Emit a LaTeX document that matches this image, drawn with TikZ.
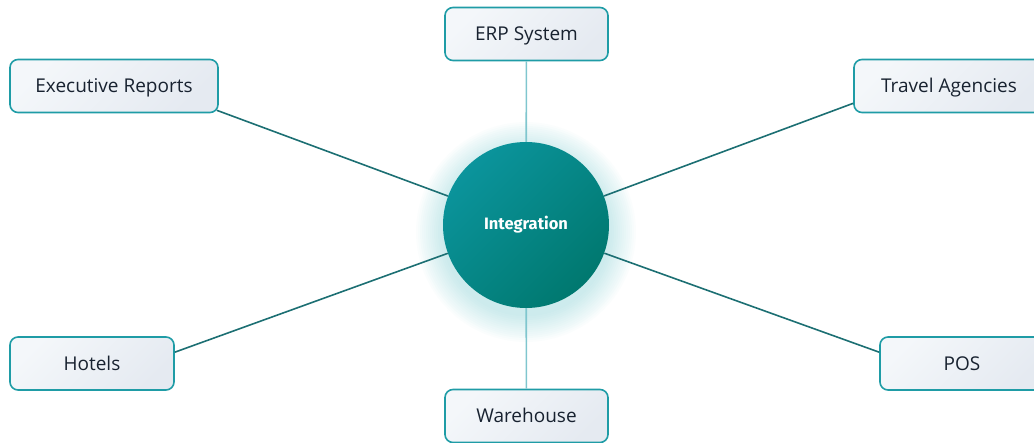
\documentclass[tikz,border=0pt]{standalone}
\usepackage{fontspec}
\setmainfont{Open Sans}
\newfontfamily\hubfont{Fira Sans}
\usepackage{xcolor}
\usepackage{tikz}
\usetikzlibrary{positioning,calc,shapes}
\definecolor{boxline}{HTML}{1F9CA6}
\definecolor{boxtop}{HTML}{F4F7FA}
\definecolor{boxbot}{HTML}{E5EAF1}
\definecolor{labeltext}{HTML}{182230}
\definecolor{spokec}{HTML}{1C6F73}
\definecolor{stemc}{HTML}{7FC6CE}
\definecolor{hubA}{HTML}{0B949C}
\definecolor{hubB}{HTML}{00786F}
\definecolor{glowc}{HTML}{4DB8BE}
\tikzstyle{sys}= [rectangle, rounded corners=8pt, draw=boxline, line width=1.6pt, top color=boxtop, bottom color=boxbot, shading angle=45, text=labeltext, font=\fontsize{19}{22}\selectfont, text height=16pt, text depth=2pt, inner sep=0pt, minimum height=53pt]
\tikzstyle{hubnode}= [circle, top color=hubA, bottom color=hubB, shading angle=45, text=white, font=\hubfont\bfseries\fontsize{16.5}{19}\selectfont, inner sep=0pt, minimum size=166pt]
\tikzstyle{spoke}= [draw=spokec, line width=1.6pt]
\tikzstyle{stem}= [draw=stemc, line width=1.6pt]

\begin{document}
\begin{tikzpicture}[x=1pt, y=1pt]
				\clip (0, 0) rectangle (1034, -443);
				\foreach \r in {84,86,...,110}
					\fill[glowc, opacity=0.025] (526, -232) circle (\r pt);
				\node[hubnode] (hub) at (526, -225) {Integration};
				\node[sys, minimum width=163pt] (erp) at (526.5, -34) {ERP System};
				\node[sys, minimum width=208pt] (exec) at (114, -86) {Executive Reports};
				\node[sys, minimum width=190pt] (travel) at (949, -86) {Travel Agencies};
				\node[sys, minimum width=164pt] (hotels) at (92, -363.5) {Hotels};
				\node[sys, minimum width=164pt] (pos) at (962, -363.5) {POS};
				\node[sys, minimum width=163pt] (ware) at (526.5, -416) {Warehouse};
				\draw[stem](hub) -- (erp);
				\draw[stem](hub) -- (ware);
				\draw[spoke](hub) -- ([xshift=-2pt, yshift=3pt]exec.south east);
				\draw[spoke](hub) -- ([yshift=10pt]travel.south west);
				\draw[spoke](hub) -- ([yshift=-16pt]hotels.north east);
				\draw[spoke](hub) -- ([yshift=-16pt]pos.north west);
			\end{tikzpicture}
\end{document}
